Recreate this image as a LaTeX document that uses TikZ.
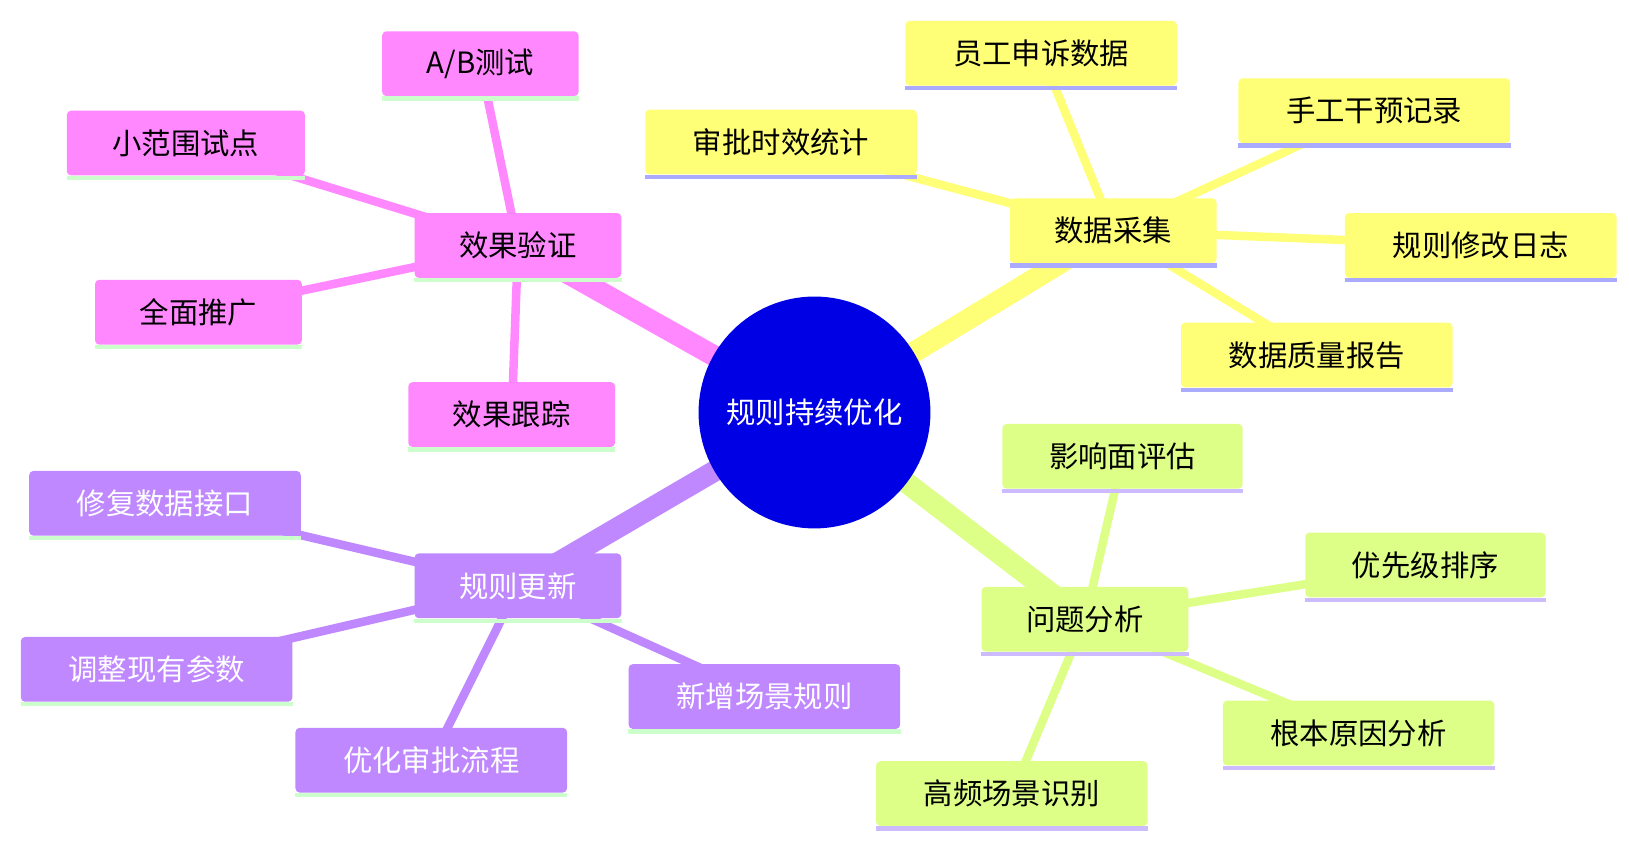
\documentclass[tikz,border=0pt]{standalone}
\usepackage{fontspec}
\setmainfont{Noto Sans CJK SC}
\usetikzlibrary{backgrounds}
\definecolor{pinkc}{RGB}{255,136,255}
\definecolor{yelc}{RGB}{255,255,119}
\definecolor{limec}{RGB}{221,255,136}
\definecolor{purc}{RGB}{191,136,255}
\definecolor{ulgreen}{RGB}{204,255,204}
\definecolor{ulblue}{RGB}{170,170,255}
\definecolor{ullav}{RGB}{204,187,255}
\tikzset{
  box/.style={rectangle,rounded corners=3pt,minimum height=1.55cm,font=\fontsize{20}{24}\selectfont},
  pinkbox/.style={box,fill=pinkc},
  yelbox/.style={box,fill=yelc},
  limebox/.style={box,fill=limec},
  purbox/.style={box,fill=purc,text=white},
  trunk/.style={line width=21*0.025cm},
  twig/.style={line width=8.5*0.025cm},
  uline/.style={line width=0.105cm},
}
\begin{document}
\begin{tikzpicture}[x=0.025cm,y=-0.025cm,scale=1.044,transform shape]
\useasboundingbox (0,0) rectangle (1560,808);
\node[circle,fill=blue!90!black,minimum size=5.55cm,text=white,font=\fontsize{20}{24}\selectfont] (root) at (780,395) {规则持续优化};
% pink branch
\node[pinkbox,minimum width=4.95cm] (verify) at (496,235) {效果验证};
\node[pinkbox,minimum width=4.7cm] (ab) at (460,61) {A/B测试};
\node[pinkbox,minimum width=5.7cm] (pilot) at (178,137) {小范围试点};
\node[pinkbox,minimum width=4.95cm] (rollout) at (190,299) {全面推广};
\node[pinkbox,minimum width=4.95cm] (track) at (490,397) {效果跟踪};
% yellow branch
\node[yelbox,minimum width=4.95cm] (collect) at (1066,221) {数据采集};
\node[yelbox,minimum width=6.5cm] (appeal) at (997,51) {员工申诉数据};
\node[yelbox,minimum width=6.5cm] (timing) at (748,136) {审批时效统计};
\node[yelbox,minimum width=6.5cm] (manual) at (1316,106) {手工干预记录};
\node[yelbox,minimum width=6.5cm] (changelog) at (1418,235) {规则修改日志};
\node[yelbox,minimum width=6.5cm] (quality) at (1261,340) {数据质量报告};
% lime branch
\node[limebox,minimum width=4.95cm] (analyse) at (1039,593) {问题分析};
\node[limebox,minimum width=5.75cm] (impact) at (1075,437) {影响面评估};
\node[limebox,minimum width=5.75cm] (priority) at (1365,541) {优先级排序};
\node[limebox,minimum width=6.5cm] (rootcause) at (1301,702) {根本原因分析};
\node[limebox,minimum width=6.5cm] (frequent) at (969,760) {高频场景识别};
% purple branch
\node[purbox,minimum width=4.95cm] (update) at (496,561) {规则更新};
\node[purbox,minimum width=6.5cm] (fixapi) at (158,482) {修复数据接口};
\node[purbox,minimum width=6.5cm] (tune) at (150,641) {调整现有参数};
\node[purbox,minimum width=6.5cm] (flow) at (413,728) {优化审批流程};
\node[purbox,minimum width=6.5cm] (newrule) at (732,667) {新增场景规则};
% underlines
\foreach \n in {verify,ab,pilot,rollout,track,update,fixapi,tune,flow,newrule}
  \draw[ulgreen,uline] ([yshift=-0.05cm]\n.south west) -- ([yshift=-0.05cm]\n.south east);
\foreach \n in {collect,appeal,timing,manual,changelog,quality}
  \draw[ulblue,uline] ([yshift=-0.05cm]\n.south west) -- ([yshift=-0.05cm]\n.south east);
\foreach \n in {analyse,impact,priority,rootcause,frequent}
  \draw[ullav,uline] ([yshift=-0.05cm]\n.south west) -- ([yshift=-0.05cm]\n.south east);
\begin{scope}[on background layer]
\draw[trunk,pinkc] (root.center) -- (verify.center);
\draw[trunk,yelc] (root.center) -- (collect.center);
\draw[trunk,limec] (root.center) -- (analyse.center);
\draw[trunk,purc] (root.center) -- (update.center);
\foreach \n in {ab,pilot,rollout,track} \draw[twig,pinkc] (verify.center) -- (\n.center);
\foreach \n in {appeal,timing,manual,changelog,quality} \draw[twig,yelc] (collect.center) -- (\n.center);
\foreach \n in {impact,priority,rootcause,frequent} \draw[twig,limec] (analyse.center) -- (\n.center);
\foreach \n in {fixapi,tune,flow,newrule} \draw[twig,purc] (update.center) -- (\n.center);
\end{scope}
\end{tikzpicture}
\end{document}
